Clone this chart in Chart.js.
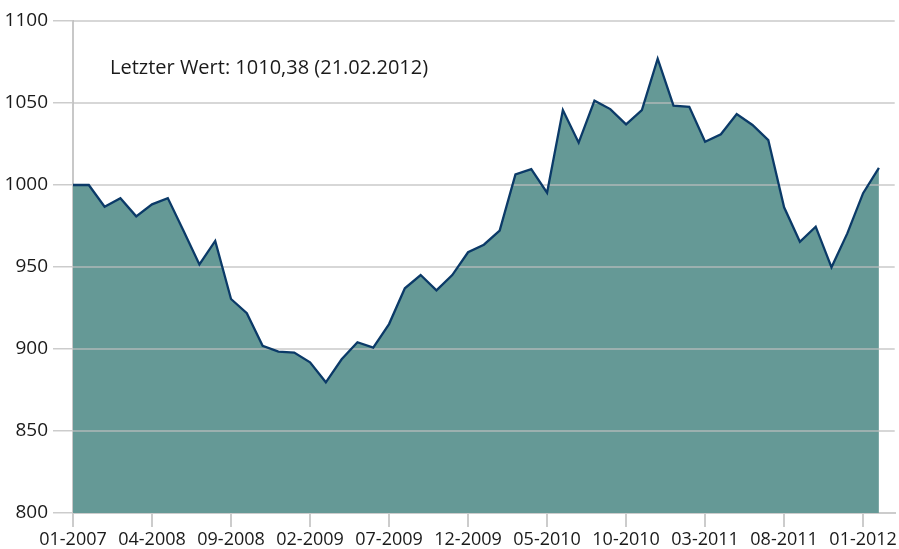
<!DOCTYPE html>
<html>
<head>
<meta charset="utf-8">
<script src="https://cdn.jsdelivr.net/npm/chart.js@4/dist/chart.umd.min.js"></script>
<style>
html,body{margin:0;padding:0;background:#fff;}
#wrap{width:899px;height:549px;position:relative;}
</style>
</head>
<body>
<div id="wrap"><canvas id="c" width="899" height="549"></canvas></div>
<script>
const periodLabels = ['01-2007','04-2007','07-2007','10-2007','01-2008',
  '04-2008','05-2008','06-2008','07-2008','08-2008','09-2008','10-2008','11-2008','12-2008',
  '01-2009','02-2009','03-2009','04-2009','05-2009','06-2009','07-2009','08-2009','09-2009','10-2009','11-2009','12-2009',
  '01-2010','02-2010','03-2010','04-2010','05-2010','06-2010','07-2010','08-2010','09-2010','10-2010','11-2010','12-2010',
  '01-2011','02-2011','03-2011','04-2011','05-2011','06-2011','07-2011','08-2011','09-2011','10-2011','11-2011','12-2011',
  '01-2012','02-2012'];
const indexValues = [1000, 1000, 986.8, 991.9, 980.9, 988.2, 992, 972, 951.6, 965.9,
  930.5, 921.8, 902, 898.4, 897.8, 891.9, 879.7, 893.7, 904.1, 900.8,
  915.2, 937, 945.1, 935.8, 945.1, 959, 963.6, 972.2, 1006.5, 1009.7,
  995.3, 1045.7, 1025.8, 1051.4, 1046.3, 1037, 1045.7, 1077, 1048.4, 1047.7,
  1026.4, 1030.9, 1043.3, 1036.6, 1027.4, 986.4, 965.4, 974.6, 949.8, 970.5,
  995, 1010.38];
const yTicks = [800, 850, 900, 950, 1000, 1050, 1100];
const annotationText = 'Letzter Wert: 1010,38 (21.02.2012)';

const FONT = 'Open Sans';
const points = indexValues.map((v, i) => ({x: i, y: v}));

const gridPlugin = {
  id: 'gridOverFill',
  beforeDatasetDraw(chart, args) {
    if (args.index !== 0) return;
    const ctx = chart.ctx, ys = chart.scales.y, a = chart.chartArea;
    ctx.save();
    ctx.strokeStyle = 'rgba(190,190,190,0.62)';
    ctx.lineWidth = 2;
    yTicks.forEach(t => {
      if (t === yTicks[0]) return;
      const y = Math.round(ys.getPixelForValue(t));
      ctx.beginPath();
      ctx.moveTo(a.left, y);
      ctx.lineTo(a.right, y);
      ctx.stroke();
    });
    ctx.restore();
  }
};
const notePlugin = {
  id: 'note',
  afterDraw(chart) {
    const ctx = chart.ctx, a = chart.chartArea;
    ctx.save();
    ctx.font = '20px "' + FONT + '"';
    ctx.fillStyle = '#1a1a1a';
    ctx.textBaseline = 'middle';
    ctx.fillText(annotationText, a.left + 37, a.top + 47);
    ctx.restore();
  }
};

new Chart(document.getElementById('c'), {
  type: 'line',
  data: {
    datasets: [
      {data: points, borderColor: '#0b3a68', borderWidth: 2.3, fill: false, pointRadius: 0, tension: 0},
      {data: points, borderWidth: 0, backgroundColor: '#659996', fill: 'start', pointRadius: 0, tension: 0}
    ]
  },
  options: {
    responsive: false,
    animation: false,
    layout: {padding: {top: 21, right: 3, left: 0, bottom: 0}},
    plugins: {legend: {display: false}, tooltip: {enabled: false}},
    scales: {
      x: {
        type: 'linear', min: 0, max: 52,
        afterBuildTicks(s) { s.ticks = periodLabels.map((l, i) => ({value: i})).filter(t => t.value % 5 === 0); },
        afterFit(s) { s.height = 36; },
        ticks: {
          callback: v => periodLabels[v] || '',
          color: '#1a1a1a', font: {family: FONT, size: 18}, padding: 2, maxRotation: 0, autoSkip: false
        },
        grid: {drawOnChartArea: false, drawTicks: true, tickLength: 14, color: '#cccccc', lineWidth: 2},
        border: {display: true, color: '#cccccc', width: 2}
      },
      y: {
        min: 800, max: 1100,
        afterBuildTicks(s) { s.ticks = yTicks.map(v => ({value: v})); },
        afterFit(s) { s.width = 73; },
        ticks: {callback: v => String(v), color: '#1a1a1a', font: {family: FONT, size: 19}, padding: 5},
        grid: {drawOnChartArea: false, drawTicks: true, tickLength: 20, color: '#cccccc', lineWidth: 1.5},
        border: {display: true, color: '#c8c8c8', width: 2}
      }
    }
  },
  plugins: [gridPlugin, notePlugin]
});
</script>
</body>
</html>
